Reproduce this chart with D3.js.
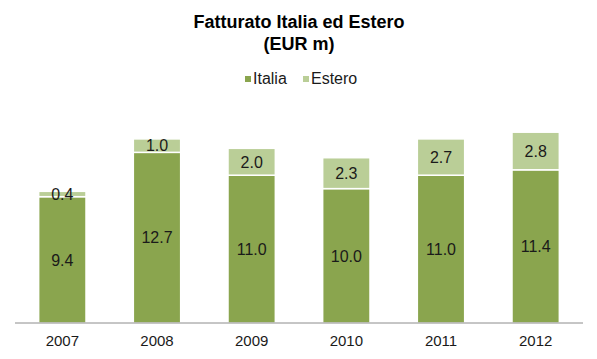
<!DOCTYPE html>
<html><head><meta charset="utf-8">
<script src="https://cdn.jsdelivr.net/npm/d3@7"></script>
<style>body{margin:0;background:#fff}svg{display:block}</style>
</head><body>
<svg id="c" width="597" height="359"></svg>
<script>
const years = ["2007","2008","2009","2010","2011","2012"];
const italia = [9.4, 12.7, 11.0, 10.0, 11.0, 11.4];
const estero = [0.4, 1.0, 2.0, 2.3, 2.7, 2.8];
const seriesNames = ["Italia","Estero"];
const colors = ["#8AA54E","#BACE97"];
const titleLines = ["Fatturato Italia ed Estero","(EUR m)"];

const svg = d3.select("#c");
const font = "Liberation Sans, Arial, sans-serif";
const x = d3.scaleBand().domain(years).range([15, 583]).paddingInner(0.5).paddingOuter(0.25);
const y = d3.scaleLinear().domain([0, 16]).range([323, 108]);

const data = years.map((yr,i)=>({year:yr, Italia:italia[i], Estero:estero[i]}));
const stack = d3.stack().keys(seriesNames)(data);

stack.forEach((s,si)=>{
  svg.append("g").selectAll("rect").data(s).join("rect")
    .attr("x", d=>x(d.data.year)).attr("width", x.bandwidth())
    .attr("y", d=>y(d[1])).attr("height", d=>y(d[0])-y(d[1]))
    .attr("fill", colors[si]).attr("stroke","#fff").attr("stroke-width",1.5);
  svg.append("g").selectAll("text").data(s).join("text")
    .attr("x", d=>x(d.data.year)+x.bandwidth()/2)
    .attr("y", d=>(y(d[0])+y(d[1]))/2)
    .attr("dy","0.36em").attr("text-anchor","middle")
    .attr("font-family",font).attr("font-size",16).attr("fill","#1a1a1a")
    .text(d=>(d[1]-d[0]).toFixed(1));
});

const ax = svg.append("g").attr("transform","translate(0,323)")
  .call(d3.axisBottom(x).tickSize(0).tickPadding(12));
ax.select(".domain").attr("stroke","#8c8c8c").attr("d","M15,0H583");
ax.selectAll("text").attr("font-family",font).attr("font-size",15).attr("fill","#1a1a1a");

svg.selectAll(".title").data(titleLines).join("text").attr("class","title")
  .attr("x",299).attr("y",(d,i)=>28+i*22).attr("text-anchor","middle")
  .attr("font-family",font).attr("font-weight","bold").attr("font-size",18).attr("fill","#000")
  .text(d=>d);

const legX = [245, 303];
seriesNames.forEach((n,i)=>{
  svg.append("rect").attr("x",legX[i]).attr("y",76).attr("width",6).attr("height",6).attr("fill",colors[i]);
  svg.append("text").attr("x",legX[i]+8).attr("y",84).attr("font-family",font).attr("font-size",16)
    .attr("fill","#1a1a1a").text(n);
});
</script>
</body></html>
